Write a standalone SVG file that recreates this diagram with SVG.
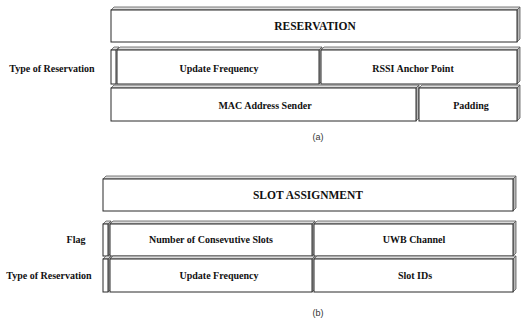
<svg xmlns="http://www.w3.org/2000/svg" width="521" height="322" viewBox="0 0 521 322">
  <style>
    .front { fill: #ffffff; stroke: #2a2a2a; stroke-width: 1; }
    .top { fill: #dcdcdc; stroke: #5a5a5a; stroke-width: 0.8; }
    .side { fill: #b8b8b8; stroke: #5a5a5a; stroke-width: 0.8; }
    .lbl { font-family: "Liberation Serif", "Times New Roman", serif; font-weight: bold; font-size: 10px; fill: #111; text-anchor: middle; }
    .ttl { font-family: "Liberation Serif", "Times New Roman", serif; font-weight: bold; font-size: 11.5px; fill: #111; text-anchor: middle; }
    .cap { font-family: "Liberation Sans", Arial, sans-serif; font-size: 9px; fill: #333; text-anchor: middle; }
  </style>

  <!-- (a) reservation frame -->
  <g id="reservation">
    <polygon class="top" points="111,10 114,7 520,7 517,10"/>
    <polygon class="side" points="517,10 520,7 520,39 517,42"/>
    <rect class="front" x="111" y="10" width="406" height="32"/>
    <text class="ttl" x="315" y="30">RESERVATION</text>
  </g>
  <g id="a-type-of-reservation">
    <polygon class="top" points="111,50 114,47 119,47 116,50"/>
    <rect class="front" x="111" y="50" width="5" height="34"/>
    <text class="lbl" x="52" y="72">Type of Reservation</text>
  </g>
  <g id="a-update-frequency">
    <polygon class="top" points="117,50 120,47 322,47 319,50"/>
    <polygon class="side" points="319,50 322,47 322,81 319,84"/>
    <rect class="front" x="117" y="50" width="202" height="34"/>
    <text class="lbl" x="219" y="72">Update Frequency</text>
  </g>
  <g id="a-rssi-anchor-point">
    <polygon class="top" points="321,50 324,47 520,47 517,50"/>
    <polygon class="side" points="517,50 520,47 520,81 517,84"/>
    <rect class="front" x="321" y="50" width="196" height="34"/>
    <text class="lbl" x="413" y="72">RSSI Anchor Point</text>
  </g>
  <g id="a-mac-address-sender">
    <polygon class="top" points="111,88 114,85 419,85 416,88"/>
    <polygon class="side" points="416,88 419,85 419,118 416,121"/>
    <rect class="front" x="111" y="88" width="305" height="33"/>
    <text class="lbl" x="265" y="109">MAC Address Sender</text>
  </g>
  <g id="a-padding">
    <polygon class="top" points="419,88 422,85 520,85 517,88"/>
    <polygon class="side" points="517,88 520,85 520,118 517,121"/>
    <rect class="front" x="419" y="88" width="98" height="33"/>
    <text class="lbl" x="471" y="109">Padding</text>
  </g>
  <text class="cap" x="318" y="140">(a)</text>

  <!-- (b) slot assignment frame -->
  <g id="slot-assignment">
    <polygon class="top" points="103,179 106,176 516,176 513,179"/>
    <polygon class="side" points="513,179 516,176 516,208 513,211"/>
    <rect class="front" x="103" y="179" width="410" height="32"/>
    <text class="ttl" x="308" y="199">SLOT ASSIGNMENT</text>
  </g>
  <g id="b-flag">
    <polygon class="top" points="103,224 106,221 111,221 108,224"/>
    <polygon class="side" points="108,224 111,221 111,253 108,256"/>
    <rect class="front" x="103" y="224" width="5" height="32"/>
    <text class="lbl" x="76" y="243">Flag</text>
  </g>
  <g id="b-number-of-consecutive-slots">
    <polygon class="top" points="110,224 113,221 315,221 312,224"/>
    <polygon class="side" points="312,224 315,221 315,253 312,256"/>
    <rect class="front" x="110" y="224" width="202" height="32"/>
    <text class="lbl" x="211" y="243">Number of Consevutive Slots</text>
  </g>
  <g id="b-uwb-channel">
    <polygon class="top" points="314,224 317,221 516,221 513,224"/>
    <polygon class="side" points="513,224 516,221 516,253 513,256"/>
    <rect class="front" x="314" y="224" width="199" height="32"/>
    <text class="lbl" x="414" y="243">UWB Channel</text>
  </g>
  <g id="b-type-of-reservation">
    <polygon class="top" points="103,259 106,256 111,256 108,259"/>
    <polygon class="side" points="108,259 111,256 111,289 108,292"/>
    <rect class="front" x="103" y="259" width="5" height="33"/>
    <text class="lbl" x="49" y="279">Type of Reservation</text>
  </g>
  <g id="b-update-frequency">
    <polygon class="top" points="110,259 113,256 315,256 312,259"/>
    <polygon class="side" points="312,259 315,256 315,289 312,292"/>
    <rect class="front" x="110" y="259" width="202" height="33"/>
    <text class="lbl" x="219" y="279">Update Frequency</text>
  </g>
  <g id="b-slot-ids">
    <polygon class="top" points="314,259 317,256 516,256 513,259"/>
    <polygon class="side" points="513,259 516,256 516,289 513,292"/>
    <rect class="front" x="314" y="259" width="199" height="33"/>
    <text class="lbl" x="415" y="279">Slot IDs</text>
  </g>
  <text class="cap" x="318" y="316">(b)</text>
</svg>
